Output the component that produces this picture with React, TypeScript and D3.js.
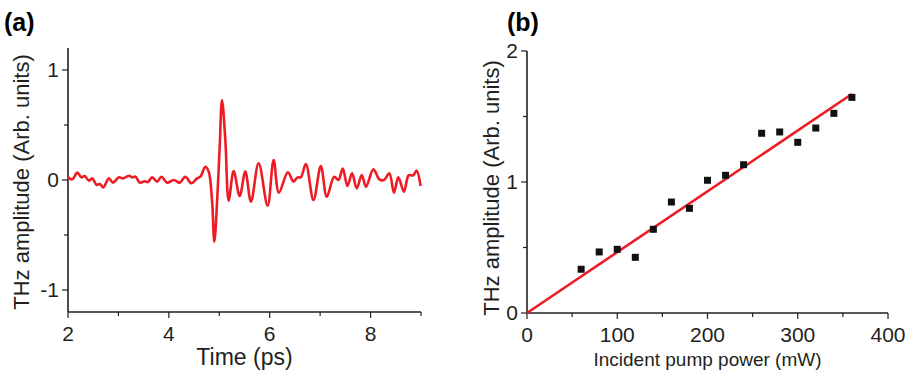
import React, { useEffect, useRef } from 'react';
import * as d3 from 'd3';

// (a) THz waveform
const timePs = [2.0, 2.086, 2.185, 2.264, 2.33, 2.416, 2.482, 2.567, 2.633, 2.699, 2.811, 2.891, 3.009, 3.095, 3.207, 3.273, 3.339, 3.425, 3.517, 3.583, 3.669, 3.768, 3.854, 3.966, 4.098, 4.216, 4.328, 4.447, 4.559, 4.625, 4.724, 4.79, 4.856, 4.902, 4.968, 5.008, 5.054, 5.12, 5.186, 5.285, 5.404, 5.516, 5.628, 5.78, 5.958, 6.077, 6.182, 6.36, 6.472, 6.551, 6.617, 6.716, 6.868, 7.013, 7.132, 7.277, 7.363, 7.449, 7.541, 7.633, 7.726, 7.825, 7.91, 8.055, 8.174, 8.266, 8.372, 8.464, 8.55, 8.662, 8.755, 8.847, 8.913, 8.992];
const amplitude = [0.024, 0.006, 0.067, 0.024, 0.036, -0.006, 0.015, -0.045, -0.036, -0.067, 0.015, -0.024, 0.024, 0.015, 0.039, 0.024, 0.03, -0.024, -0.012, -0.018, 0.024, -0.015, 0.03, -0.024, 0.0, -0.024, 0.03, -0.03, 0.015, 0.03, 0.121, 0.076, -0.182, -0.561, -0.091, 0.3, 0.727, 0.364, -0.188, 0.082, -0.145, 0.076, -0.197, 0.152, -0.233, 0.182, -0.115, 0.07, -0.015, 0.024, 0.024, 0.145, -0.182, 0.127, -0.152, 0.03, 0.0, 0.103, -0.055, 0.061, -0.076, 0.045, -0.061, 0.097, 0.006, 0.0, 0.061, -0.115, 0.024, -0.106, 0.042, 0.042, 0.085, -0.055];

// (b) amplitude vs pump power
const powerMw = [60, 80, 100, 120, 140, 160, 180, 200, 220, 240, 260, 280, 300, 320, 340, 360];
const powerAmp = [0.334, 0.466, 0.486, 0.425, 0.639, 0.847, 0.799, 1.013, 1.051, 1.132, 1.372, 1.382, 1.303, 1.412, 1.524, 1.646];
const fitX = [0, 360];
const fitY = [0, 1.672];

const ticksA_x = [2, 3, 4, 5, 6, 7, 8, 9];
const labelsA_x = [2, 4, 6, 8];
const ticksA_y = [-1, -0.5, 0, 0.5, 1];
const labelsA_y = [-1, 0, 1];
const ticksB_x = [0, 50, 100, 150, 200, 250, 300, 350, 400];
const labelsB_x = [0, 100, 200, 300, 400];
const ticksB_y = [0, 0.5, 1, 1.5, 2];
const labelsB_y = [0, 1, 2];

const FONT = '"Liberation Sans", Arial, sans-serif';
const AXIS = '#231f20';
const RED = '#ed1c24';

const App = () => {
  const svgRef = useRef<SVGSVGElement>(null);

  useEffect(() => {
    const svg = d3.select(svgRef.current);
    svg.selectAll('*').remove();

    const drawAxes = (
      g: any,
      x: any,
      y: any,
      xt: number[],
      xl: number[],
      yt: number[],
      yl: number[],
      xTitle: string,
      titleSize: number,
      fmtY: (v: number) => string
    ) => {
      const [x0, x1] = x.range();
      const [y0, y1] = y.range();
      g.append('line').attr('x1', x0).attr('x2', x1).attr('y1', y0).attr('y2', y0)
        .attr('stroke', AXIS).attr('stroke-width', 1.6);
      g.append('line').attr('x1', x0).attr('x2', x0).attr('y1', y0).attr('y2', y1)
        .attr('stroke', AXIS).attr('stroke-width', 1.6);

      xt.forEach(v => {
        const major = xl.includes(v);
        g.append('line').attr('x1', x(v)).attr('x2', x(v)).attr('y1', y0).attr('y2', y0 + (major ? 6 : 4))
          .attr('stroke', AXIS).attr('stroke-width', 1.2);
      });
      yt.forEach(v => {
        const major = yl.includes(v);
        g.append('line').attr('x1', x0).attr('x2', x0 - (major ? 6 : 4)).attr('y1', y(v)).attr('y2', y(v))
          .attr('stroke', AXIS).attr('stroke-width', 1.2);
      });

      g.selectAll('.xl').data(xl).enter().append('text')
        .attr('x', d => x(d)).attr('y', y0 + 29)
        .attr('text-anchor', 'middle').attr('font-size', 21).attr('font-family', FONT).attr('fill', AXIS)
        .text(d => d);
      g.selectAll('.yl').data(yl).enter().append('text')
        .attr('x', x0 - 9).attr('y', d => y(d) + 7)
        .attr('text-anchor', 'end').attr('font-size', 21).attr('font-family', FONT).attr('fill', AXIS)
        .text(d => fmtY(d));

      g.append('text')
        .attr('x', (x0 + x1) / 2).attr('y', y0 + 53)
        .attr('text-anchor', 'middle').attr('font-size', titleSize).attr('font-family', FONT).attr('fill', AXIS)
        .text(xTitle);
    };

    // ---- panel (a)
    const xa = d3.scaleLinear().domain([2, 9]).range([68, 421]);
    const ya = d3.scaleLinear().domain([-1.2, 1.2]).range([312, 48]);
    const ga = svg.append('g');
    drawAxes(ga, xa, ya, ticksA_x, labelsA_x, ticksA_y, labelsA_y, 'Time (ps)', 23, v => (v < 0 ? '-' + Math.abs(v) : String(v)));

    const wave = d3.line<number>()
      .x((d, i) => xa(timePs[i]))
      .y(d => ya(d))
      .curve(d3.curveCatmullRom.alpha(0.5));
    ga.append('path').attr('d', wave(amplitude))
      .attr('fill', 'none').attr('stroke', RED).attr('stroke-width', 2.6);

    ga.append('text').attr('transform', 'translate(29,182) rotate(-90)')
      .attr('text-anchor', 'middle').attr('font-size', 22).attr('font-family', FONT).attr('fill', AXIS)
      .text('THz amplitude (Arb. units)');
    ga.append('text').attr('x', 4).attr('y', 31)
      .attr('font-size', 25).attr('font-weight', 'bold').attr('font-family', FONT).attr('fill', '#000')
      .text('(a)');

    // ---- panel (b)
    const xb = d3.scaleLinear().domain([0, 400]).range([527, 888]);
    const yb = d3.scaleLinear().domain([0, 2]).range([313, 51]);
    const gb = svg.append('g');
    drawAxes(gb, xb, yb, ticksB_x, labelsB_x, ticksB_y, labelsB_y, 'Incident pump power (mW)', 19, v => String(v));

    const fit = d3.line<number>().x((d, i) => xb(fitX[i])).y(d => yb(d));
    gb.append('path').attr('d', fit(fitY))
      .attr('fill', 'none').attr('stroke', RED).attr('stroke-width', 2.6);

    gb.selectAll('.pt').data(powerAmp).enter().append('rect')
      .attr('x', (d, i) => xb(powerMw[i]) - 3.5)
      .attr('y', d => yb(d) - 3.5)
      .attr('width', 7).attr('height', 7)
      .attr('fill', '#111');

    gb.append('text').attr('transform', 'translate(499,188) rotate(-90)')
      .attr('text-anchor', 'middle').attr('font-size', 22).attr('font-family', FONT).attr('fill', AXIS)
      .text('THz amplitude (Arb. units)');
    gb.append('text').attr('x', 507).attr('y', 31)
      .attr('font-size', 25).attr('font-weight', 'bold').attr('font-family', FONT).attr('fill', '#000')
      .text('(b)');

    return () => {
      d3.select(svgRef.current).selectAll('*').remove();
    };
  }, []);

  return (
    <svg ref={svgRef} width={912} height={373}
      style={{ position: 'absolute', left: 0, top: 0, background: '#fff' }} />
  );
};

export default App;
